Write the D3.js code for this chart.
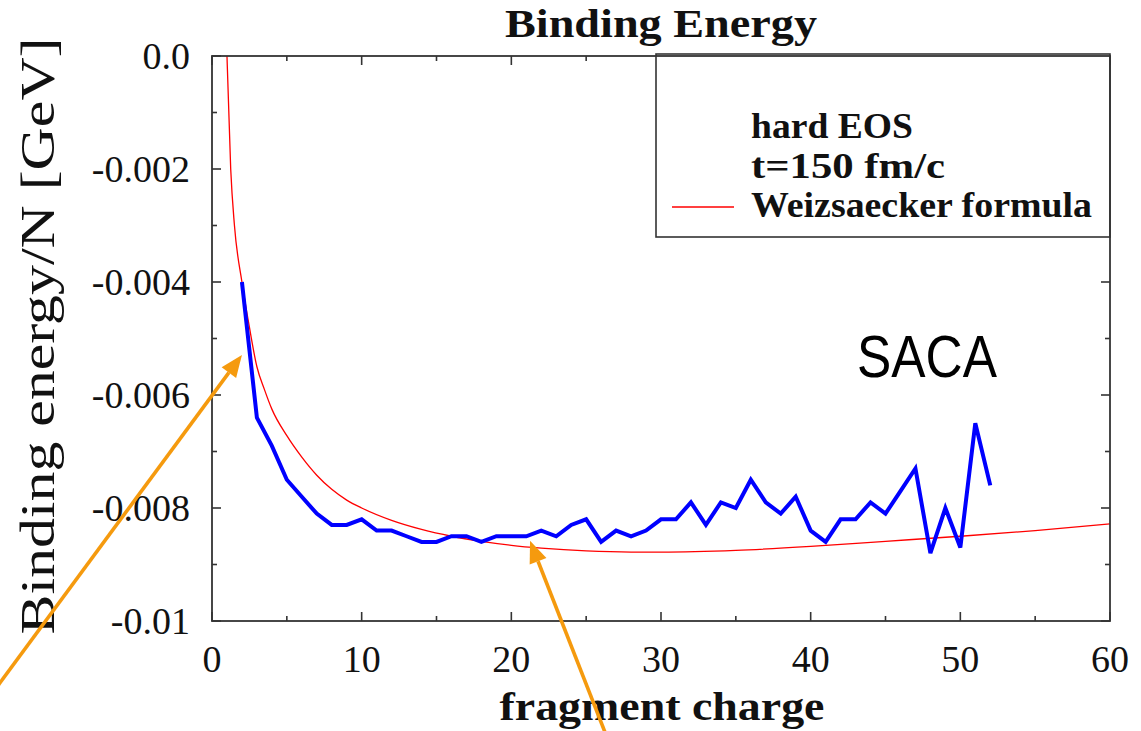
<!DOCTYPE html>
<html>
<head>
<meta charset="utf-8">
<script src="https://cdn.jsdelivr.net/npm/d3@7"></script>
<style>
  html, body { margin: 0; padding: 0; background: #fff; }
  svg { display: block; }
</style>
</head>
<body>
<svg id="chart" width="1141" height="731"></svg>
<script>
// Fragment charge (x) of the SACA clusters
const sacaCharge = [2,3,4,5,6,7,8,9,10,11,12,13,14,15,16,17,18,19,20,21,22,23,24,25,26,27,
  28,29,30,31,32,33,34,35,36,37,38,39,40,41,42,43,44,45,46,47,48,49,50,51,52];
// Binding energy per nucleon [GeV] of the SACA clusters
const sacaEnergy = [-0.0040,-0.0064,-0.0069,-0.0075,-0.0078,-0.0081,-0.0083,-0.0083,-0.0082,
  -0.0084,-0.0084,-0.0085,-0.0086,-0.0086,-0.0085,-0.0085,-0.0086,-0.0085,-0.0085,-0.0085,
  -0.0084,-0.0085,-0.0083,-0.0082,-0.0086,-0.0084,-0.0085,-0.0084,-0.0082,-0.0082,-0.0079,
  -0.0083,-0.0079,-0.0080,-0.0075,-0.0079,-0.0081,-0.0078,-0.0084,-0.0086,-0.0082,-0.0082,
  -0.0079,-0.0081,-0.0077,-0.0073,-0.0088,-0.0080,-0.0087,-0.0065,-0.0076];

// Weizsaecker mass formula curve, sampled
const weizCharge = [1,1.25,1.5,2,2.5,3,3.5,4,5,6,7,8,9,10,12,14,16,18,20,22,25,28,30,35,40,45,50,55,60];
const weizEnergy = [0.0,-0.0020,-0.0030,-0.0040,-0.0048,-0.0055,-0.0059,-0.00625,-0.00672,-0.00710,
  -0.00742,-0.00767,-0.00786,-0.00800,-0.00822,-0.00838,-0.00850,-0.00859,-0.00866,-0.00871,
  -0.00876,-0.00878,-0.00878,-0.00875,-0.00868,-0.00859,-0.0085,-0.0084,-0.00828];

// Axis ticks
const xMajorTicks = [0,10,20,30,40,50,60];
const xMinorTicks = [5,15,25,35,45,55];
const yMajorTicks = [0,-0.002,-0.004,-0.006,-0.008,-0.01];
const yMajorLabels = ["0.0","-0.002","-0.004","-0.006","-0.008","-0.01"];
const yMinorTicks = [-0.001,-0.003,-0.005,-0.007,-0.009];

// Legend entries
const legendLines = ["hard EOS","t=150 fm/c","Weizsaecker formula"];

// Annotation arrows in data units: [tailX, tailY, tipX, tipY]
const arrows = [
  [-14.6, -0.01125, 2.0, -0.00529],
  [26.6, -0.0122, 21.25, -0.00858]
];

const svg = d3.select("#chart");
const pLeft = 212, pRight = 1110, pTop = 56, pBottom = 621;
const x = d3.scaleLinear().domain([0, 60]).range([pLeft, pRight]);
const y = d3.scaleLinear().domain([-0.01, 0]).range([pBottom, pTop]);

const serif = "'Liberation Serif', 'Times New Roman', serif";
const frameColor = "#333";

svg.append("defs").append("clipPath").attr("id", "plotclip")
  .append("rect").attr("x", pLeft).attr("y", pTop)
  .attr("width", pRight - pLeft).attr("height", pBottom - pTop);

// Ticks (inward, mirrored on all sides)
const tickG = svg.append("g").attr("stroke", frameColor).attr("stroke-width", 1.6);
function xTick(v, len) {
  tickG.append("line").attr("x1", x(v)).attr("x2", x(v)).attr("y1", pBottom).attr("y2", pBottom - len);
  tickG.append("line").attr("x1", x(v)).attr("x2", x(v)).attr("y1", pTop).attr("y2", pTop + len);
}
function yTick(v, len) {
  tickG.append("line").attr("y1", y(v)).attr("y2", y(v)).attr("x1", pLeft).attr("x2", pLeft + len);
  tickG.append("line").attr("y1", y(v)).attr("y2", y(v)).attr("x1", pRight).attr("x2", pRight - len);
}
xMajorTicks.forEach(v => xTick(v, 9));
xMinorTicks.forEach(v => xTick(v, 5));
yMajorTicks.forEach(v => yTick(v, 9));
yMinorTicks.forEach(v => yTick(v, 5));

// Tick labels
svg.append("g").selectAll("text").data(xMajorTicks).join("text")
  .attr("x", d => x(d)).attr("y", 672)
  .attr("text-anchor", "middle")
  .attr("font-family", serif).attr("font-size", 38).attr("fill", "#111")
  .text(d => d);
svg.append("g").selectAll("text").data(yMajorTicks).join("text")
  .attr("x", 190).attr("y", d => y(d) + 13)
  .attr("text-anchor", "end")
  .attr("font-family", serif).attr("font-size", 38).attr("fill", "#111")
  .text((d, i) => yMajorLabels[i]);

// Weizsaecker curve
const line = d3.line().x(d => x(d[0])).y(d => y(d[1]));
const smoothLine = d3.line().x(d => x(d[0])).y(d => y(d[1])).curve(d3.curveMonotoneX);
svg.append("path")
  .datum(weizCharge.map((c, i) => [c, weizEnergy[i]]))
  .attr("clip-path", "url(#plotclip)")
  .attr("fill", "none").attr("stroke", "#ff0000").attr("stroke-width", 1.3)
  .attr("d", smoothLine);

// SACA clusters
svg.append("path")
  .datum(sacaCharge.map((c, i) => [c, sacaEnergy[i]]))
  .attr("fill", "none").attr("stroke", "#0000ff").attr("stroke-width", 4)
  .attr("stroke-linejoin", "miter")
  .attr("d", line);

// Legend box
const lg = svg.append("g");
lg.append("rect").attr("x", 656).attr("y", pTop - 2).attr("width", pRight - 656).attr("height", 183)
  .attr("fill", "#fff").attr("stroke", frameColor).attr("stroke-width", 1.6);
lg.selectAll("text").data(legendLines).join("text")
  .attr("x", 751).attr("y", (d, i) => 138 + i * 39.5)
  .attr("font-family", serif).attr("font-weight", "bold").attr("font-size", 35).attr("fill", "#111")
  .attr("textLength", (d, i) => [162, 194, 341][i]).attr("lengthAdjust", "spacingAndGlyphs")
  .text(d => d);
lg.append("line").attr("x1", 672).attr("x2", 734).attr("y1", 207).attr("y2", 207)
  .attr("stroke", "#ff0000").attr("stroke-width", 1.3);

// Plot frame
svg.append("rect").attr("x", pLeft).attr("y", pTop).attr("width", pRight - pLeft).attr("height", pBottom - pTop)
  .attr("fill", "none").attr("stroke", frameColor).attr("stroke-width", 1.8);

// Title and axis titles
svg.append("text").attr("x", 661).attr("y", 37).attr("text-anchor", "middle")
  .attr("font-family", serif).attr("font-weight", "bold").attr("font-size", 40).attr("fill", "#111")
  .attr("textLength", 312).attr("lengthAdjust", "spacingAndGlyphs")
  .text("Binding Energy");
svg.append("text").attr("x", 662).attr("y", 720).attr("text-anchor", "middle")
  .attr("font-family", serif).attr("font-weight", "bold").attr("font-size", 40).attr("fill", "#111")
  .attr("textLength", 325).attr("lengthAdjust", "spacingAndGlyphs")
  .text("fragment charge");
svg.append("text")
  .attr("transform", "translate(54,336) rotate(-90)")
  .attr("text-anchor", "middle")
  .attr("font-family", serif).attr("font-size", 48).attr("fill", "#111")
  .attr("textLength", 597).attr("lengthAdjust", "spacingAndGlyphs")
  .text("Binding energy/N [GeV]");

// SACA label
svg.append("text").attr("x", 857).attr("y", 377)
  .attr("font-family", "'Liberation Sans', Arial, sans-serif").attr("font-size", 59).attr("fill", "#000")
  .attr("textLength", 140).attr("lengthAdjust", "spacingAndGlyphs")
  .text("SACA");

// Orange annotation arrows
const orange = "#f59a0e";
arrows.forEach(a => {
  const x0 = x(a[0]), y0 = y(a[1]), x1 = x(a[2]), y1 = y(a[3]);
  const ang = Math.atan2(y1 - y0, x1 - x0);
  const hl = 22, hw = 9;
  const bx = x1 - hl * Math.cos(ang), by = y1 - hl * Math.sin(ang);
  svg.append("line").attr("x1", x0).attr("y1", y0).attr("x2", bx).attr("y2", by)
    .attr("stroke", orange).attr("stroke-width", 3.6);
  const px = -Math.sin(ang), py = Math.cos(ang);
  svg.append("path")
    .attr("d", `M${x1},${y1}L${bx + hw * px},${by + hw * py}L${bx - hw * px},${by - hw * py}Z`)
    .attr("fill", orange);
});
</script>
</body>
</html>
